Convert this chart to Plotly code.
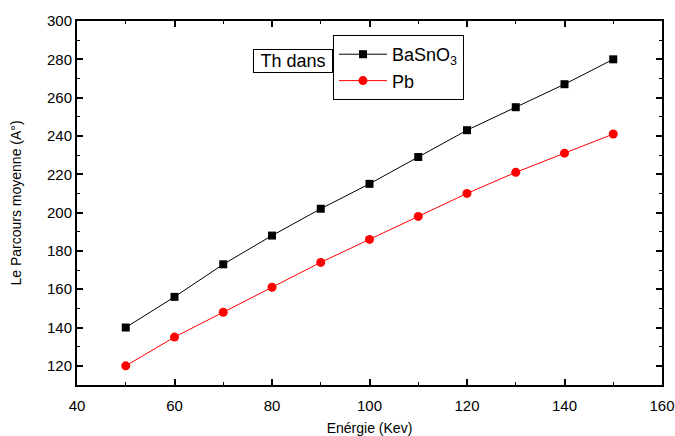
import plotly.graph_objects as go

energie = [50, 60, 70, 80, 90, 100, 110, 120, 130, 140, 150]
basno3 = [140, 156, 173, 188, 202, 215, 229, 243, 255, 267, 280]
pb = [120, 135, 148, 161, 174, 186, 198, 210, 221, 231, 241]

FONT = "Liberation Sans, Arial, sans-serif"

fig = go.Figure()
fig.add_trace(go.Scatter(x=energie, y=basno3, mode="lines+markers", name="BaSnO<sub>3</sub>",
                         line=dict(color="black", width=1),
                         marker=dict(symbol="square", size=8, color="black")))
fig.add_trace(go.Scatter(x=energie, y=pb, mode="lines+markers", name="Pb",
                         line=dict(color="red", width=1),
                         marker=dict(symbol="circle", size=9, color="red")))

axis_common = dict(showline=True, linecolor="black", linewidth=2, mirror="allticks",
                   ticks="inside", ticklen=6, tickwidth=1.5, tickcolor="black",
                   showgrid=False, zeroline=False, automargin=False,
                   tickfont=dict(family=FONT, size=15, color="black"),
                   minor=dict(ticks="inside", ticklen=3, tickwidth=1, tickcolor="black", dtick=10))

fig.update_xaxes(range=[40, 160], dtick=20, tick0=40, ticklabelstandoff=6,
                 title=dict(text="Enérgie (Kev)", font=dict(family=FONT, size=14, color="black"), standoff=14),
                 **axis_common)
fig.update_yaxes(range=[110, 300], dtick=20, tick0=120,
                 title=dict(text="Le Parcours moyenne (A°)", font=dict(family=FONT, size=14, color="black"), standoff=22),
                 **axis_common)

fig.add_annotation(text="Th dans", xref="paper", yref="paper", x=0.4376, y=0.889,
                   xanchor="right", yanchor="middle", showarrow=False, width=76,
                   font=dict(family=FONT, size=18, color="black"),
                   bordercolor="black", borderwidth=1, borderpad=1, bgcolor="white")

fig.update_layout(
    width=675, height=436,
    margin=dict(l=77, r=13, t=21, b=51),
    plot_bgcolor="white", paper_bgcolor="white",
    legend=dict(x=0.4376, y=0.9615, xanchor="left", yanchor="top",
                bordercolor="black", borderwidth=1, bgcolor="white",
                font=dict(family=FONT, size=18, color="black"),
                tracegroupgap=0, itemwidth=48),
    showlegend=True,
)

fig.write_html("out.html", config={"displayModeBar": False},
               post_script="document.body.style.margin='0px';")
